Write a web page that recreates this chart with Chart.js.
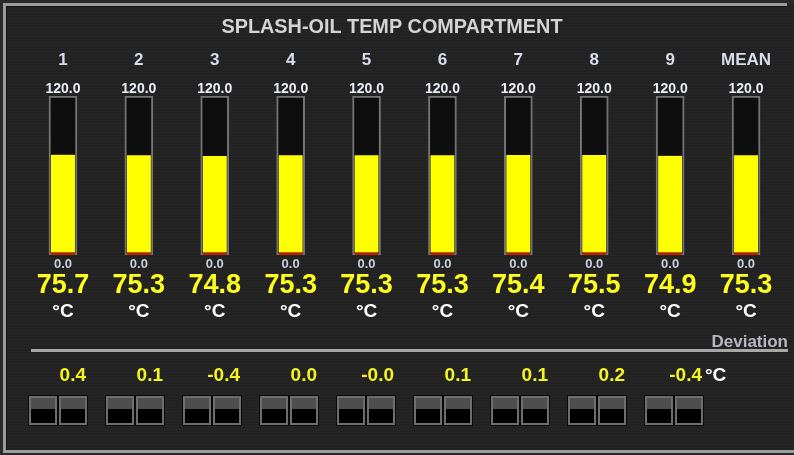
<!DOCTYPE html>
<html lang="en">
<head>
    <meta charset="UTF-8">
    <title>Splash-oil temp compartment</title>
    <style>
        html, body { margin: 0; padding: 0; background: #2a2a2a; }
        canvas { display: block; }
    </style>
</head>
<body>
    <canvas id="chart" width="794" height="455"></canvas>

    <script src="https://cdn.jsdelivr.net/npm/chart.js"></script>
    <script>
        // chart data
        const title = 'SPLASH-OIL TEMP COMPARTMENT';
        const channels = ['1', '2', '3', '4', '5', '6', '7', '8', '9', 'MEAN'];
        const temps = [75.7, 75.3, 74.8, 75.3, 75.3, 75.3, 75.4, 75.5, 74.9, 75.3];
        const deviations = [0.4, 0.1, -0.4, 0.0, -0.0, 0.1, 0.1, 0.2, -0.4];
        const gaugeMin = 0;
        const gaugeMax = 120;
        const unit = '°C';

        const FONT = '"Liberation Sans", Arial, sans-serif';

        function fmtDev(v) {
            const neg = v < 0 || Object.is(v, -0);
            return (neg ? '-' : '') + Math.abs(v).toFixed(1);
        }

        // panel background + frame
        const panelPlugin = {
            id: 'panel',
            beforeDraw(chart) {
                const ctx = chart.ctx;
                const w = chart.width, h = chart.height;
                ctx.save();
                ctx.fillStyle = '#2a2a2a';
                ctx.fillRect(0, 0, w, h);
                ctx.fillStyle = '#222222';
                ctx.fillRect(5, 5, w - 5, h - 9);
                // faint brushed lines
                ctx.fillStyle = 'rgba(255,255,255,0.018)';
                for (let y = 6; y < h - 5; y += 3) {
                    ctx.fillRect(6, y, w - 6, 1);
                }
                // frame
                ctx.fillStyle = '#9c9c9c';
                ctx.fillRect(3, 3, 784, 3);
                ctx.fillRect(3, 3, 3, 450);
                ctx.fillRect(3, 450, w - 3, 3);
                ctx.fillStyle = '#141414';
                ctx.fillRect(6, 6, 781, 1);
                ctx.fillRect(6, 6, 1, 444);
                ctx.restore();
            }
        };

        // texts and deviation row
        const labelsPlugin = {
            id: 'labels',
            afterDatasetsDraw(chart) {
                const ctx = chart.ctx;
                const xs = chart.scales.x;
                const ys = chart.scales.y;
                const ds = chart.scales.dev;
                ctx.save();
                ctx.textAlign = 'center';
                ctx.textBaseline = 'alphabetic';

                ctx.fillStyle = '#d4d4d4';
                ctx.font = 'bold 20px ' + FONT;
                ctx.fillText(title, 392, 33, 341);

                const yTop = ys.getPixelForValue(gaugeMax);
                const yBot = ys.getPixelForValue(gaugeMin);

                channels.forEach((c, i) => {
                    const x = xs.getPixelForValue(i);
                    ctx.fillStyle = '#d8dcec';
                    ctx.font = 'bold 17px ' + FONT;
                    ctx.fillText(c, x, 65);

                    ctx.fillStyle = '#eceef6';
                    ctx.font = 'bold 14px ' + FONT;
                    ctx.fillText(gaugeMax.toFixed(1), x, yTop - 3);

                    ctx.fillStyle = '#c8d0e0';
                    ctx.font = 'bold 13px ' + FONT;
                    ctx.fillText(gaugeMin.toFixed(1), x, yBot + 13);

                    ctx.fillStyle = '#ffff1e';
                    ctx.font = 'bold 27px ' + FONT;
                    ctx.fillText(temps[i].toFixed(1), x, yBot + 38);

                    ctx.fillStyle = '#ffffff';
                    ctx.font = 'bold 19px ' + FONT;
                    ctx.fillText(unit, x, yBot + 62);
                });

                // separator + caption
                ctx.fillStyle = '#a8a8a8';
                ctx.fillRect(31, 349, 757, 3);
                ctx.fillStyle = '#b8b8c2';
                ctx.font = 'bold 17px ' + FONT;
                ctx.textAlign = 'right';
                ctx.fillText('Deviation', 788, 347);

                deviations.forEach((d, i) => {
                    const c = ds.getPixelForValue(i);
                    ctx.textAlign = 'right';
                    ctx.fillStyle = '#f4f41e';
                    ctx.font = 'bold 19px ' + FONT;
                    ctx.fillText(fmtDev(d), c + 28, 381);
                    if (i === deviations.length - 1) {
                        ctx.textAlign = 'left';
                        ctx.fillStyle = '#ffffff';
                        ctx.fillText(unit, c + 31, 381);
                    }
                    // indicator pair
                    [c - 29, c + 1].forEach(bx => {
                        ctx.fillStyle = '#0a0a0a';
                        ctx.fillRect(bx - 1, 395, 30, 31);
                        ctx.fillStyle = '#6e6e6e';
                        ctx.fillRect(bx, 396, 28, 29);
                        ctx.fillStyle = '#4e4e4e';
                        ctx.fillRect(bx + 2, 398, 24, 11);
                        ctx.fillStyle = '#000000';
                        ctx.fillRect(bx + 2, 409, 24, 14);
                    });
                });
                ctx.restore();
            }
        };

        const ctx = document.getElementById('chart').getContext('2d');
        new Chart(ctx, {
            type: 'bar',
            data: {
                labels: channels,
                datasets: [
                    {
                        label: 'Temperature',
                        data: temps,
                        backgroundColor: '#ffff00',
                        borderColor: '#b52000',
                        borderWidth: { top: 0, left: 0, right: 0, bottom: 3 },
                        borderSkipped: false,
                        barThickness: 24,
                        grouped: false,
                        order: 0
                    },
                    {
                        label: 'Range',
                        data: channels.map(() => gaugeMax),
                        backgroundColor: '#0e0e0e',
                        borderColor: '#747474',
                        borderWidth: 2,
                        borderSkipped: false,
                        barThickness: 28,
                        grouped: false,
                        order: 1
                    }
                ]
            },
            options: {
                responsive: false,
                animation: false,
                devicePixelRatio: 1,
                layout: { padding: { top: 96, bottom: 200, left: 25, right: 10 } },
                plugins: {
                    legend: { display: false },
                    tooltip: { enabled: false }
                },
                scales: {
                    x: { display: false },
                    y: { display: false, min: gaugeMin, max: gaugeMax },
                    dev: { type: 'linear', position: 'bottom', display: false, offset: false, bounds: 'data', min: -0.4286, max: 9.4286 }
                }
            },
            plugins: [panelPlugin, labelsPlugin]
        });
    </script>
</body>
</html>
